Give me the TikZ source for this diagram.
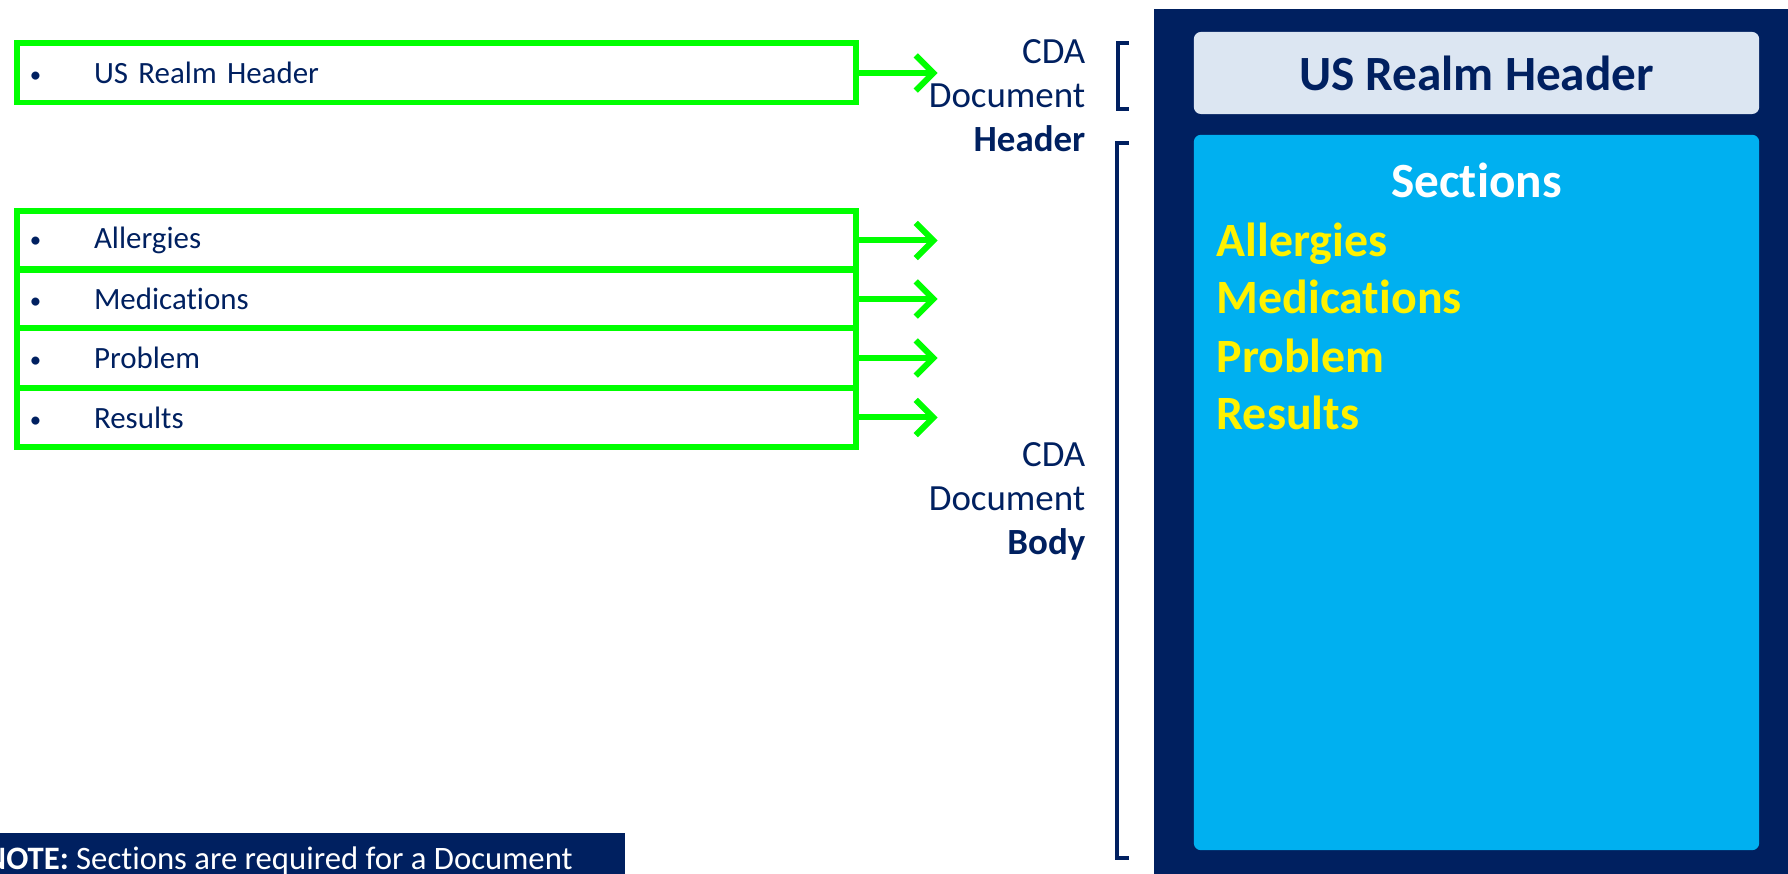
\documentclass[tikz,border=0pt]{standalone}
\usepackage{fontspec}
\setmainfont{Carlito}[Ligatures=NoCommon]
\usetikzlibrary{arrows.meta}
\definecolor{navy}{HTML}{002060}
\definecolor{gbright}{HTML}{00FF00}
\definecolor{hdrgray}{HTML}{DCE6F2}
\definecolor{skyblue}{HTML}{00B0F0}
\tikzset{
	itembox/.style={draw=gbright,line width=1.7pt,anchor=west,inner xsep=0pt,inner ysep=0pt,text width=8.39cm,align=left,minimum height=0.59cm,text=navy,font=\fontsize{8.8}{11}\selectfont},
	garrow/.style={draw=gbright,line width=1.7pt,-{Straight Barb[length=5pt,width=10pt]}},
	cdalabel/.style={align=right,anchor=north east,inner sep=0pt,text=navy,font=\fontsize{10.5}{12.5}\selectfont},
	brack/.style={draw=navy,line width=1pt},
	secitem/.style={anchor=base west,inner sep=0pt,text=yellow,font=\fontsize{13.6}{16}\selectfont\bfseries},
}
\newcommand{\bul}{\hspace*{0.13cm}\makebox[0.64cm][l]{\raisebox{0.3pt}{\fontsize{6.5}{8}\selectfont\textbullet}}}
\begin{document}
\begin{tikzpicture}[x=0.01cm,y=-0.01cm]
		\useasboundingbox (0,0) rectangle (1788,874);
		\clip (0,0) rectangle (1788,874);
		% Template items
		\node[itembox] (usr) at (14,73) {\bul US Realm Header};
		\foreach \name/\txt/\yy in {alg/Allergies/240.5,med/Medications/299,prb/Problem/358,res/Results/417.5}
			\node[itembox] (\name) at (14,\yy) {\bul\txt};
		% Arrows
		\foreach \name in {usr,alg,med,prb,res}{
			\coordinate (\name-tip) at ([xshift=0.78cm]\name.east);
			\draw[garrow] (\name.east) -- (\name-tip);
		}
		% Header / Body labels
		\node[cdalabel] (hdrlbl) at (1086,39) {CDA\\Document\\\textbf{Header}};
		\node[cdalabel] (bodylbl) at (1086,442) {CDA\\Document\\\textbf{Body}};
		\draw[brack] (1129,43) -| (1118,109) -- (1129,109);
		\draw[brack] (1129,143) -| (1117,858) -- (1129,858);
		% Document panel
		\fill[navy] (1154,9) rectangle (1800,880);
		\node[fill=hdrgray,rounded corners=2pt,minimum width=5.65cm,minimum height=0.82cm,text=navy,font=\fontsize{14}{17}\selectfont\bfseries] (usrhdr) at (1476.5,73) {US Realm Header};
		\node[fill=skyblue,rounded corners=2pt,minimum width=5.65cm,minimum height=7.15cm] (secs) at (1476.5,492.5) {};
		\node[text=white,font=\fontsize{14}{17}\selectfont\bfseries] (sectitle) at (1476.5,180) {Sections};
		\foreach \name/\txt/\yy in {salg/Allergies/257,smed/Medications/314,sprb/Problem/373,sres/Results/430}
			\node[secitem] (\name) at (1216,\yy) {\txt};
		% Note
		\fill[navy] (-10,833) rectangle (625,890);
		\node[anchor=base west,inner sep=0pt,text=white,font=\fontsize{9.3}{11}\selectfont] (note) at (-16,870) {\textbf{NOTE:} Sections are required for a Document};
\end{tikzpicture}
\end{document}
